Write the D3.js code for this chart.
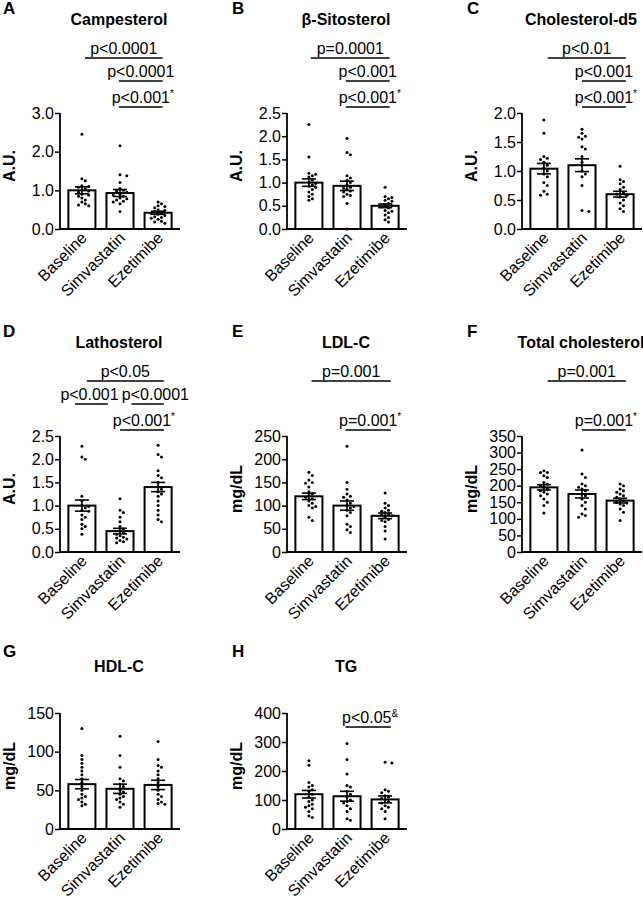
<!DOCTYPE html>
<html><head><meta charset="utf-8">
<script src="https://cdn.jsdelivr.net/npm/d3@7"></script>
<style>
body{margin:0;background:#fff}
text{font-family:"Liberation Sans",Arial,Helvetica,sans-serif;fill:#000}
</style>
</head><body>
<svg id="chart" width="643" height="900"></svg>
<script>
// ---------- data ----------
const groups = ["Baseline", "Simvastatin", "Ezetimibe"];

const campesterolTicks = [0, 1, 2, 3];
const campesterolMeans = [1.0, 0.93, 0.42];
const campesterolSems = [0.09, 0.09, 0.04];
const campesterolPoints = [
  [2.45,1.3,1.25,1.12,1.1,1.08,1.05,1.0,0.98,0.95,0.9,0.88,0.85,0.8,0.75,0.7,0.65,0.62,0.6],
  [2.15,1.4,1.38,1.2,1.05,1.0,0.98,0.95,0.9,0.88,0.85,0.8,0.78,0.75,0.72,0.7,0.65,0.45],
  [0.7,0.65,0.6,0.58,0.55,0.5,0.48,0.45,0.42,0.4,0.38,0.35,0.32,0.3,0.28,0.25,0.2,0.18,0.15]
];
const campesterolComparisons = [
  {from:0.08, to:2.12, level:0, label:"p<0.0001", sup:""},
  {from:0.97, to:2.12, level:1, label:"p<0.0001", sup:""},
  {from:0.97, to:2.12, level:2, label:"p<0.001", sup:"*"}
];

const sitosterolTicks = [0, 0.5, 1.0, 1.5, 2.0, 2.5];
const sitosterolMeans = [1.0, 0.93, 0.5];
const sitosterolSems = [0.08, 0.1, 0.04];
const sitosterolPoints = [
  [2.25,1.55,1.2,1.18,1.15,1.12,1.05,1.0,0.98,0.95,0.92,0.9,0.85,0.8,0.75,0.7,0.65,0.62],
  [1.95,1.65,1.6,1.15,1.1,1.05,1.0,0.95,0.9,0.88,0.85,0.82,0.8,0.75,0.72,0.7,0.55,0.0],
  [0.9,0.7,0.68,0.65,0.62,0.6,0.55,0.52,0.5,0.48,0.45,0.4,0.38,0.35,0.3,0.25,0.2,0.15]
];
const sitosterolComparisons = [
  {from:0.05, to:2.12, level:0, label:"p=0.0001", sup:""},
  {from:0.97, to:2.12, level:1, label:"p<0.001", sup:""},
  {from:0.97, to:2.12, level:2, label:"p<0.001", sup:"*"}
];

const cholesterolD5Ticks = [0, 0.5, 1.0, 1.5, 2.0];
const cholesterolD5Means = [1.04, 1.1, 0.6];
const cholesterolD5Sems = [0.09, 0.11, 0.05];
const cholesterolD5Points = [
  [1.88,1.65,1.25,1.22,1.2,1.15,1.1,1.05,1.0,0.95,0.9,0.8,0.75,0.65,0.6,0.58],
  [1.72,1.65,1.6,1.58,1.55,1.42,1.38,1.25,1.15,1.0,0.95,0.9,0.75,0.32,0.3],
  [1.08,0.85,0.82,0.78,0.72,0.68,0.62,0.6,0.58,0.55,0.5,0.45,0.4,0.35,0.3]
];
const cholesterolD5Comparisons = [
  {from:0.1, to:2.15, level:0, label:"p<0.01", sup:""},
  {from:1.0, to:2.15, level:1, label:"p<0.001", sup:""},
  {from:1.0, to:2.15, level:2, label:"p<0.001", sup:"*"}
];

const lathosterolTicks = [0, 0.5, 1.0, 1.5, 2.0, 2.5];
const lathosterolMeans = [1.0, 0.45, 1.4];
const lathosterolSems = [0.12, 0.06, 0.1];
const lathosterolPoints = [
  [2.28,2.05,2.0,1.2,1.1,1.0,0.98,0.95,0.9,0.88,0.8,0.75,0.7,0.6,0.55,0.5,0.38],
  [1.15,0.9,0.85,0.75,0.65,0.55,0.5,0.45,0.42,0.38,0.35,0.32,0.3,0.28,0.25,0.22,0.2],
  [2.3,2.1,2.05,1.75,1.65,1.6,1.5,1.4,1.35,1.3,1.25,1.2,1.1,1.0,0.9,0.8,0.7,0.65]
];
const lathosterolComparisons = [
  {from:0.13, to:2.15, level:0, label:"p<0.05", sup:""},
  {from:-0.18, to:0.68, level:1, label:"p<0.001", sup:"", textAt:0.2},
  {from:1.3, to:2.15, level:1, label:"p<0.0001", sup:"", textAt:1.93},
  {from:1.0, to:2.15, level:2, label:"p<0.001", sup:"*"}
];

const ldlTicks = [0, 50, 100, 150, 200, 250];
const ldlMeans = [120, 100, 78];
const ldlSems = [7, 10, 6];
const ldlPoints = [
  [172,165,155,150,148,140,130,125,122,118,115,110,105,100,98,95,75,68],
  [228,150,135,125,120,118,112,105,100,98,95,90,85,78,60,55,48,42],
  [127,105,100,95,90,88,85,82,80,78,75,70,68,65,55,45,28]
];
const ldlComparisons = [
  {from:0.07, to:2.15, level:0, label:"p=0.001", sup:""},
  {from:0.96, to:2.15, level:2, label:"p=0.001", sup:"*"}
];

const totalCholTicks = [0, 50, 100, 150, 200, 250, 300, 350];
const totalCholMeans = [195, 175, 155];
const totalCholSems = [8, 12, 7];
const totalCholPoints = [
  [245,240,240,230,225,210,205,200,195,190,185,180,175,170,160,150,140,118],
  [308,235,225,205,200,195,190,185,175,170,160,150,140,130,115,110,105],
  [205,200,190,185,180,175,170,165,160,155,150,148,145,140,130,120,95]
];
const totalCholComparisons = [
  {from:0.1, to:2.15, level:0, label:"p=0.001", sup:""},
  {from:1.0, to:2.15, level:2, label:"p=0.001", sup:"*"}
];

const hdlTicks = [0, 50, 100, 150];
const hdlMeans = [58, 52, 57];
const hdlSems = [6, 6, 6];
const hdlPoints = [
  [130,95,90,85,80,75,70,65,60,55,50,45,42,40,38,35,32,30],
  [120,95,80,65,62,58,55,50,48,45,42,40,38,35,32,28],
  [113,90,82,80,75,70,65,60,55,50,45,42,38,35,33,32]
];
const hdlComparisons = [];

const tgTicks = [0, 100, 200, 300, 400];
const tgMeans = [120, 113, 102];
const tgSems = [13, 17, 12];
const tgPoints = [
  [235,220,160,150,145,135,130,120,110,100,95,85,80,75,70,60,45,40],
  [295,240,190,150,145,130,120,110,100,95,90,80,70,60,35,30],
  [230,228,135,130,125,115,110,105,100,95,90,80,75,70,60,35]
];
const tgComparisons = [
  {from:0.96, to:2.15, level:3, label:"p<0.05", sup:"&"}
];

const panelLetters = ["A","B","C","D","E","F","G","H"];
const panelTitles = ["Campesterol","β-Sitosterol","Cholesterol-d5","Lathosterol","LDL-C","Total cholesterol","HDL-C","TG"];
const yAxisLabels = ["A.U.","A.U.","A.U.","A.U.","mg/dL","mg/dL","mg/dL","mg/dL"];
const tickFormats = [".1f",".1f",".1f",".1f","d","d","d","d"];

const panelData = [
  [campesterolTicks, campesterolMeans, campesterolSems, campesterolPoints, campesterolComparisons],
  [sitosterolTicks, sitosterolMeans, sitosterolSems, sitosterolPoints, sitosterolComparisons],
  [cholesterolD5Ticks, cholesterolD5Means, cholesterolD5Sems, cholesterolD5Points, cholesterolD5Comparisons],
  [lathosterolTicks, lathosterolMeans, lathosterolSems, lathosterolPoints, lathosterolComparisons],
  [ldlTicks, ldlMeans, ldlSems, ldlPoints, ldlComparisons],
  [totalCholTicks, totalCholMeans, totalCholSems, totalCholPoints, totalCholComparisons],
  [hdlTicks, hdlMeans, hdlSems, hdlPoints, hdlComparisons],
  [tgTicks, tgMeans, tgSems, tgPoints, tgComparisons]
];

// ---------- layout ----------
const colX = [60, 287, 522];
const rowTop = [113, 436, 713];
const rowBottom = [229, 552, 829];
const plotWidth = 120;
const levelOffsets = [-55, -32, -6, 14];
const font = '"Liberation Sans",Arial,Helvetica,sans-serif';

const svg = d3.select("#chart");

panelData.forEach((pd, i) => {
  const [ticks, means, sems, points, comps] = pd;
  const col = i % 3, row = Math.floor(i / 3);
  const x0 = colX[col], yT = rowTop[row], yB = rowBottom[row];
  const g = svg.append("g");

  const x = d3.scaleBand().domain(groups).range([x0, x0 + plotWidth]).paddingInner(0.29).paddingOuter(0.22);
  const y = d3.scaleLinear().domain([0, d3.max(ticks)]).range([yB, yT]);
  const bw = x.bandwidth();
  const step = x.step();
  const c0 = x(groups[0]) + bw / 2;
  const idx = d3.scaleLinear().domain([0, 1]).range([c0, c0 + step]);

  // panel letter & title
  const titleX = x0 + plotWidth / 2 - 1;
  g.append("text").attr("x", col === 0 ? 3 : x0 - 55).attr("y", yT - (row === 2 ? 56 : 99))
    .attr("font-size", 17).attr("font-weight", "bold").text(panelLetters[i]);
  g.append("text").attr("x", titleX).attr("y", row === 2 ? yT - 41 : yT - 88)
    .attr("text-anchor", "middle").attr("font-size", 16).attr("font-weight", "bold").text(panelTitles[i]);

  // y label
  g.append("text").attr("transform", `translate(${x0 - 45},${(yT + yB) / 2 - 5}) rotate(-90)`)
    .attr("text-anchor", "middle").attr("font-size", 16).attr("font-weight", "bold").text(yAxisLabels[i]);

  // bars
  g.selectAll("rect.bar").data(means).join("rect")
    .attr("x", (d, j) => x(groups[j])).attr("width", bw)
    .attr("y", d => y(d)).attr("height", d => yB - y(d))
    .attr("fill", "#fff").attr("stroke", "#000").attr("stroke-width", 2);

  // points (beeswarm placement)
  const r = 1.5, minDist = 3.6;
  points.forEach((vals, j) => {
    const cx = x(groups[j]) + bw / 2;
    const placed = [];
    vals.slice().sort((a, b) => b - a).forEach(v => {
      const py = y(v);
      let off = 0;
      for (let k = 0; k < 40; k++) {
        const cand = k === 0 ? 0 : (k % 2 ? 1 : -1) * Math.ceil(k / 2) * 3.4;
        if (placed.every(p => Math.hypot(p[0] - (cx + cand), p[1] - py) >= minDist)) { off = cand; break; }
      }
      placed.push([cx + off, py]);
    });
    g.selectAll(null).data(placed).join("circle")
      .attr("cx", d => d[0]).attr("cy", d => d[1]).attr("r", r).attr("fill", "#000");
  });

  // error bars
  means.forEach((m, j) => {
    const cx = x(groups[j]) + bw / 2, s = sems[j], cw = 7;
    g.append("line").attr("x1", cx).attr("x2", cx).attr("y1", y(m - s)).attr("y2", y(m + s)).attr("stroke", "#000").attr("stroke-width", 1.6);
    [m - s, m + s].forEach(v => g.append("line").attr("x1", cx - cw).attr("x2", cx + cw).attr("y1", y(v)).attr("y2", y(v)).attr("stroke", "#000").attr("stroke-width", 1.6));
  });

  // axes
  const fmt = d3.format(tickFormats[i]);
  const ya = g.append("g").attr("transform", `translate(${x0},0)`)
    .call(d3.axisLeft(y).tickValues(ticks).tickFormat(fmt).tickSize(5).tickPadding(1));
  ya.select(".domain").attr("stroke-width", 1.8).attr("d", `M0,${yB}V${yT}`);
  ya.selectAll(".tick line").attr("stroke-width", 1.5);
  ya.selectAll(".tick text").attr("font-size", 16).attr("font-family", font);

  const xa = g.append("g").attr("transform", `translate(0,${yB})`)
    .call(d3.axisBottom(x).tickSize(0).tickPadding(0));
  xa.select(".domain").attr("stroke-width", 1.8).attr("d", `M${x0},0H${x0 + plotWidth}`);
  xa.selectAll(".tick text").attr("font-size", 16).attr("font-family", font)
    .attr("text-anchor", "end").attr("dy", 0).attr("transform", "translate(6,10) rotate(-45)");

  // comparisons
  comps.forEach(c => {
    const ly = yT + levelOffsets[c.level];
    const xa1 = idx(c.from), xa2 = idx(c.to);
    g.append("line").attr("x1", xa1).attr("x2", xa2).attr("y1", ly).attr("y2", ly).attr("stroke", "#000").attr("stroke-width", 1.5);
    const tx = c.textAt !== undefined ? idx(c.textAt) : (xa1 + xa2) / 2 + (c.sup ? 2 : 0);
    const t = g.append("text").attr("x", tx).attr("y", ly - 4)
      .attr("text-anchor", "middle").attr("font-size", 16);
    t.append("tspan").text(c.label);
    if (c.sup) t.append("tspan").attr("font-size", 10).attr("dy", -6).text(c.sup);
  });
});
</script>
</body></html>
